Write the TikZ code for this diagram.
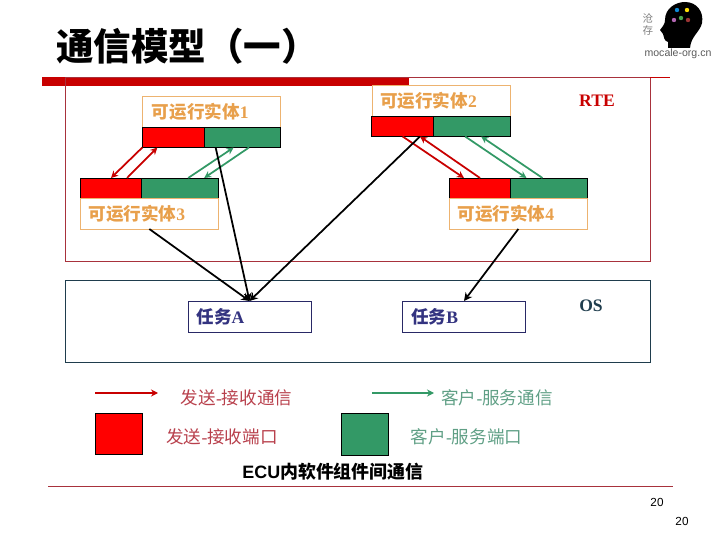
\documentclass[tikz,border=0pt]{standalone}
\usepackage{fontspec}
\setmainfont{Liberation Serif}
\setsansfont{Liberation Sans}
\newfontfamily\cjk{Noto Sans CJK SC}
\usetikzlibrary{positioning,arrows.meta}
\definecolor{portred}{HTML}{FF0000}
\definecolor{portgreen}{HTML}{339966}
\definecolor{barred}{HTML}{C80000}
\definecolor{rimred}{HTML}{A8323C}
\definecolor{rimblue}{HTML}{1F3D4D}
\definecolor{entorange}{HTML}{E8A04C}
\definecolor{taskblue}{HTML}{333380}
\definecolor{legendred}{HTML}{B8404C}
\definecolor{legendgreen}{HTML}{5F9F85}

\begin{document}
\begin{tikzpicture}[
    x=0.03cm, y=-0.03cm,
    node distance=0pt,
    entity/.style={rectangle, draw=entorange!80, line width=0.4pt, outer sep=0pt, minimum width=4.15cm, minimum height=0.93cm, inner sep=0pt},
    redport/.style={rectangle, draw=black, fill=portred, line width=0.6pt, outer sep=0pt, minimum width=1.85cm, minimum height=0.6cm},
    greenport/.style={rectangle, draw=black, fill=portgreen, line width=0.6pt, outer sep=0pt, minimum width=2.3cm, minimum height=0.6cm},
    layer/.style={rectangle, line width=0.6pt, outer sep=0pt, minimum width=17.55cm},
    task/.style={rectangle, draw=taskblue!80!black, line width=0.5pt, outer sep=0pt, minimum width=3.68cm, minimum height=0.93cm},
    enttext/.style={text=entorange, font=\fontsize{15}{15}\selectfont\bfseries, inner sep=0pt},
    tasktext/.style={text=taskblue, font=\fontsize{15}{15}\selectfont\bfseries, inner sep=0pt},
    redarrow/.style={-{Stealth[length=6pt,width=6pt]}, line width=1.5pt, barred},
    greenarrow/.style={-{Stealth[length=6pt,width=6pt]}, line width=1.5pt, portgreen},
    callarrow/.style={-{Stealth[length=7pt,width=7pt]}, line width=1.5pt, black},
    legendtext/.style={font=\fontsize{15}{15}\selectfont, inner sep=0pt},
]
    \useasboundingbox (0,0) rectangle (720,540);

    % Title
    \node[font=\fontsize{32}{32}\selectfont\cjk\bfseries, text=black, inner sep=0pt] (title) at (187.5,46) {通信模型（一）};
    \fill[barred] (42,77) rectangle (409,86);

    % Logo
    \fill[black] (668,48) -- (668,42) .. controls (664,41) and (664,37) .. (663,34) -- (660,30) .. controls (663,26) and (665,24) .. (665,20) .. controls (665,8) and (676,2) .. (685,2) .. controls (697,2) and (704,12) .. (702,23) .. controls (700,32) and (691,36) .. (690,48) -- cycle;
    \fill[cyan!70!blue] (677,10) circle (2.2);
    \fill[yellow!80!orange] (687,10) circle (2.2);
    \fill[violet!60] (674,20) circle (2.2);
    \fill[green!50!black!70] (681,18) circle (2.2);
    \fill[red!50!black!80] (688,20) circle (2.2);
    \node[font=\fontsize{9}{11}\selectfont\cjk, text=black!50, align=center, inner sep=0pt] (logomark) at (648,24.5) {沧\\存};
    \node[font=\fontsize{9}{9}\selectfont\sffamily, text=black!65, inner sep=0pt] (logotext) at (678,54) {mocale-org.cn};

    % Layers
    \node[layer, draw=rimred, minimum height=5.52cm] (rte) at (357.5,169) {};
    \node[layer, draw=rimblue, minimum height=2.46cm] (os) at (357.5,321) {};
    \draw[barred, line width=0.6pt] (rte.north east) -- ++(20,0);
    \node[text=barred, font=\fontsize{15}{15}\selectfont\bfseries, inner sep=0pt] (rtelabel) at (597,101) {RTE};
    \node[text=rimblue, font=\fontsize{15}{15}\selectfont\bfseries, inner sep=0pt] (oslabel) at (591,306) {OS};

    % Runnables with ports
    \node[entity] (ent1) at (211.5,112) {};
    \node[redport, below=of ent1.south west, anchor=north west] (red1) {};
    \node[greenport, right=of red1] (green1) {};
    \node[entity] (ent2) at (441,101) {};
    \node[redport, below=of ent2.south west, anchor=north west] (red2) {};
    \node[greenport, right=of red2] (green2) {};
    \node[redport] (red3) at (111,188) {};
    \node[greenport, right=of red3] (green3) {};
    \node[entity, below=of red3.south west, anchor=north west] (ent3) {};
    \node[redport] (red4) at (480,188) {};
    \node[greenport, right=of red4] (green4) {};
    \node[entity, below=of red4.south west, anchor=north west] (ent4) {};

    \node[enttext, right=8pt of ent1.west] (text1) {{\cjk 可运行实体}1};
    \node[enttext, right=7pt of ent2.west] (text2) {{\cjk 可运行实体}2};
    \node[enttext, right=7pt of ent3.west] (text3) {{\cjk 可运行实体}3};
    \node[enttext, right=7pt of ent4.west] (text4) {{\cjk 可运行实体}4};

    % Tasks
    \node[task] (taska) at (249.5,316.5) {};
    \node[task] (taskb) at (464,316.5) {};
    \node[tasktext, right=7pt of taska.west] (texta) {{\cjk 任务}A};
    \node[tasktext, right=7pt of taskb.west] (textb) {{\cjk 任务}B};

    % Sender-receiver arrows
    \draw[redarrow] (red1.south west) -- (red3.north);
    \draw[redarrow] ([xshift=0.48cm]red3.north) -- ([xshift=0.45cm]red1.south west);
    \draw[redarrow] (red2.south) -- ([xshift=-0.48cm]red4.north);
    \draw[redarrow] (red4.north) -- ([xshift=0.52cm]red2.south);

    % Client-server arrows
    \draw[greenarrow] ([xshift=0.24cm]green3.north) -- ([xshift=-0.26cm]green1.south);
    \draw[greenarrow] ([xshift=0.2cm]green1.south) -- ([xshift=0.72cm]green3.north);
    \draw[greenarrow] ([xshift=-0.2cm]green2.south) -- ([xshift=-0.68cm]green4.north);
    \draw[greenarrow] ([xshift=-0.2cm]green4.north) -- ([xshift=0.28cm]green2.south);

    % Runnable to task
    \draw[callarrow] ([xshift=-0.8cm]green1.south) -- (taska.north);
    \draw[callarrow] (ent3.south) -- (taska.north);
    \draw[callarrow] ([xshift=0.52cm]red2.south) -- (taska.north);
    \draw[callarrow] (ent4.south) -- (taskb.north);

    % Legend
    \coordinate (redstart) at (95,393);
    \coordinate (redend) at (158,393);
    \coordinate (greenstart) at (372,393);
    \coordinate (greenend) at (434,393);
    \draw[redarrow] (redstart) -- (redend);
    \draw[greenarrow] (greenstart) -- (greenend);
    \node[rectangle, draw=black, fill=portred, line width=0.5pt, minimum width=1.42cm, minimum height=1.22cm] (redsquare) at (119,433.5) {};
    \node[rectangle, draw=black, fill=portgreen, line width=0.5pt, minimum width=1.4cm, minimum height=1.25cm] (greensquare) at (364.5,434) {};
    \node[legendtext, text=legendred] (sr) at (236.5,398) {{\cjk 发送}-{\cjk 接收通信}};
    \node[legendtext, text=legendred] (srport) at (222,437) {{\cjk 发送}-{\cjk 接收端口}};
    \node[legendtext, text=legendgreen] (cs) at (497,398) {{\cjk 客户}-{\cjk 服务通信}};
    \node[legendtext, text=legendgreen] (csport) at (466.5,437) {{\cjk 客户}-{\cjk 服务端口}};

    % Footer
    \node[font=\fontsize{15.3}{15.3}\selectfont\sffamily\bfseries, inner sep=0pt] (caption) at (333,472) {ECU{\cjk\bfseries 内软件组件间通信}};
    \draw[rimred, line width=0.6pt] (48,486) -- (673,486);
    \node[font=\fontsize{10}{10}\selectfont\sffamily, inner sep=0pt] (page) at (657,502) {20};
    \node[font=\fontsize{10}{10}\selectfont\sffamily, inner sep=0pt] (pagetwo) at (682,521) {20};
\end{tikzpicture}
\end{document}
